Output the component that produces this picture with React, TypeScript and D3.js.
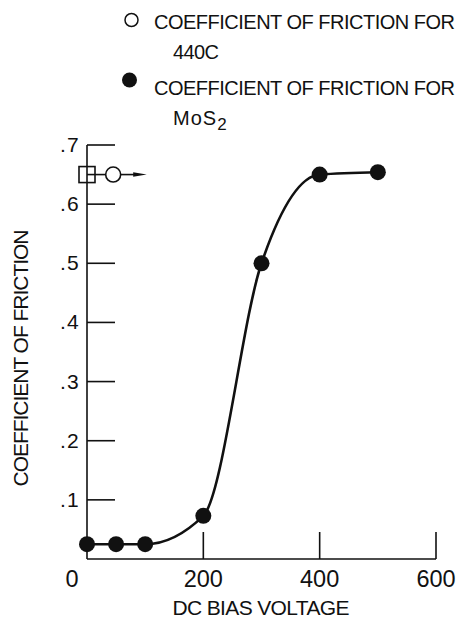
import React from 'react'
import * as d3 from 'd3'

// MoS2 friction vs bias voltage (filled dots)
const biasVoltage = [0, 50, 100, 200, 300, 400, 500]
const frictionMoS2 = [0.025, 0.025, 0.025, 0.073, 0.5, 0.65, 0.654]

// 440C reference point (open circle + square at axis)
const voltage440C = [45]
const friction440C = [0.65]

const xTicks = [0, 200, 400, 600]
const yTicks = [0.1, 0.2, 0.3, 0.4, 0.5, 0.6, 0.7]
const yTickLabels = ['.1', '.2', '.3', '.4', '.5', '.6', '.7']

const W = 460
const H = 620
const FONT = '"Liberation Sans Narrow", "Liberation Sans", sans-serif'
const INK = '#111'

export default function App() {
  const x = d3.scaleLinear().domain([0, 600]).range([87, 436])
  const y = d3.scaleLinear().domain([0, 0.7]).range([559, 145])

  const pts = biasVoltage.map((v, i) => [v, frictionMoS2[i]] as [number, number])
  const line = d3.line<[number, number]>()
    .x(d => x(d[0]))
    .y(d => y(d[1]))
    .curve(d3.curveMonotoneX)

  const ox = x(voltage440C[0])
  const oy = y(friction440C[0])

  return (
    <svg width={W} height={H} style={{ position: 'absolute', left: 0, top: 0, background: '#fff' }}>
      {/* legend */}
      <g fontFamily={FONT} fill={INK} fontSize={20}>
        <circle cx={131.5} cy={20} r={6.5} fill="none" stroke={INK} strokeWidth={1.5} />
        <text x={154} y={28.5} textLength={301} lengthAdjust="spacing">COEFFICIENT OF FRICTION FOR</text>
        <text x={173} y={58.5} textLength={46} lengthAdjust="spacing">440C</text>
        <circle cx={129.5} cy={80} r={7.5} fill={INK} />
        <text x={154} y={94.5} textLength={301} lengthAdjust="spacing">COEFFICIENT OF FRICTION FOR</text>
        <text x={173} y={125}>
          <tspan letterSpacing={1}>MoS</tspan>
          <tspan dy={5} fontSize={17}>2</tspan>
        </text>
      </g>

      {/* axes */}
      <g stroke={INK} strokeWidth={1.6} fill="none">
        <line x1={x(0)} x2={x(0)} y1={y(0.7)} y2={y(0)} />
        <line x1={x(0)} x2={x(600)} y1={y(0)} y2={y(0)} />
        {yTicks.map(t => (
          <line key={t} x1={x(0)} x2={x(0) + 28} y1={y(t)} y2={y(t)} />
        ))}
        {xTicks.filter(t => t > 0).map(t => (
          <line key={t} x1={x(t)} x2={x(t)} y1={y(0)} y2={y(0) - 27} />
        ))}
      </g>

      {/* tick labels */}
      <g fontFamily={FONT} fill={INK}>
        {yTicks.map((t, i) => (
          <text key={t} x={60} y={y(t)} dy={7} fontSize={21}>
            <tspan>.</tspan>
            <tspan x={67}>{yTickLabels[i].slice(1)}</tspan>
          </text>
        ))}
        {xTicks.map(t => (
          <text key={t} x={t === 0 ? x(t) - 15 : x(t)} y={587} fontSize={23.5} textAnchor="middle">
            {t}
          </text>
        ))}
        <text x={261} y={615} fontSize={21} textAnchor="middle" textLength={177} lengthAdjust="spacing">
          DC BIAS VOLTAGE
        </text>
        <text
          transform={`translate(28,358) rotate(-90)`}
          fontSize={21}
          textAnchor="middle"
          textLength={257}
          lengthAdjust="spacing"
        >
          COEFFICIENT OF FRICTION
        </text>
      </g>

      {/* MoS2 curve and points */}
      <path d={line(pts) ?? ''} fill="none" stroke={INK} strokeWidth={2.6} />
      {pts.map((d, i) => (
        <circle key={i} cx={x(d[0])} cy={y(d[1])} r={8} fill={INK} />
      ))}

      {/* 440C marker: square on axis, open circle, arrow */}
      <g stroke={INK} strokeWidth={1.6}>
        <line x1={x(0)} x2={ox - 7.5} y1={oy} y2={oy} />
        <line x1={ox + 7.5} x2={ox + 22} y1={oy} y2={oy} />
        <rect x={x(0) - 8} y={oy - 8} width={16} height={16} fill="none" />
        <circle cx={ox} cy={oy} r={7.5} fill="#fff" />
      </g>
      <path
        d={`M${ox + 20},${oy - 2.2} L${ox + 33.5},${oy} L${ox + 20},${oy + 2.2} Z`}
        fill={INK}
      />
    </svg>
  )
}
